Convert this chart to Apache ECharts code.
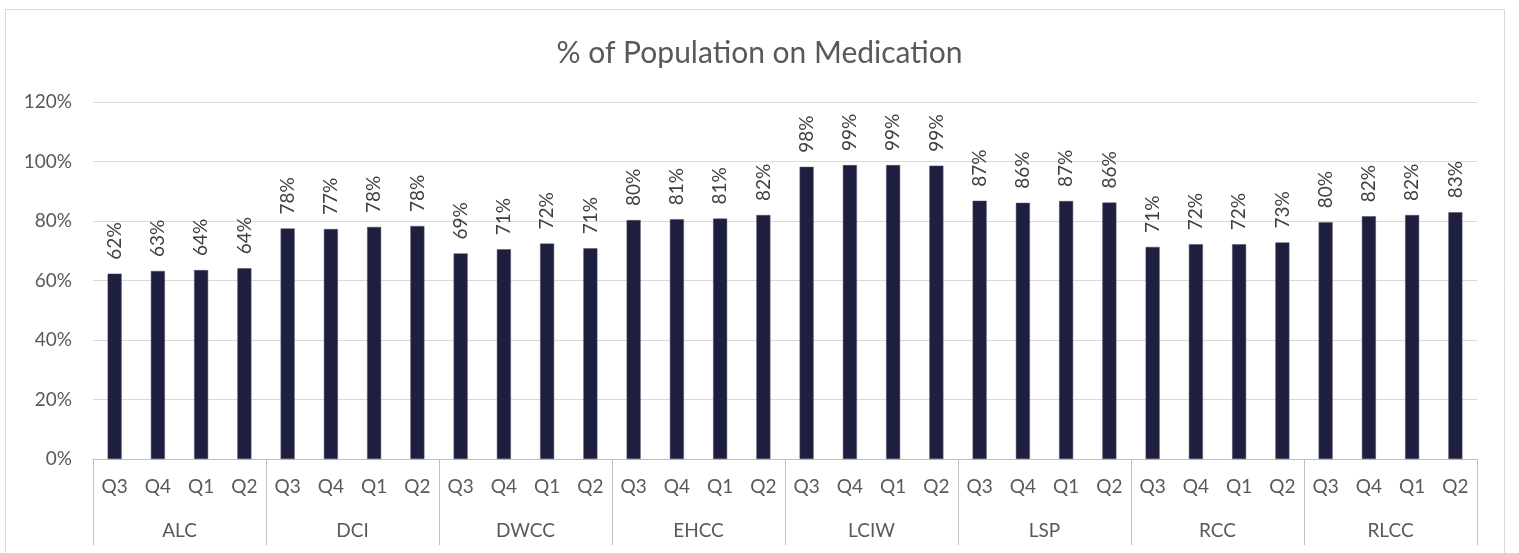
<!DOCTYPE html>
<html>
<head>
<meta charset="utf-8">
<title>% of Population on Medication</title>
<script src="https://cdn.jsdelivr.net/npm/echarts@6/dist/echarts.min.js"></script>
<style>
  html, body { margin: 0; padding: 0; background: #fff; }
  #chart { width: 1519px; height: 553px; }
</style>
</head>
<body>
<div id="chart"></div>
<script>
// facility groups, 4 quarters each
const facilities = ['ALC', 'DCI', 'DWCC', 'EHCC', 'LCIW', 'LSP', 'RCC', 'RLCC']
const quarters = ['Q3', 'Q4', 'Q1', 'Q2']

// % on medication per facility (Q3, Q4, Q1, Q2)
const alc = [62.3, 63.2, 63.5, 64.1]
const dci = [77.5, 77.3, 78.0, 78.3]
const dwcc = [69.1, 70.5, 72.4, 70.8]
const ehcc = [80.3, 80.6, 80.8, 82.0]
const lciw = [98.2, 98.8, 98.8, 98.6]
const lsp = [86.8, 86.1, 86.7, 86.2]
const rcc = [71.3, 72.2, 72.2, 72.8]
const rlcc = [79.6, 81.6, 82.0, 82.9]

const yTicks = [0, 20, 40, 60, 80, 100, 120]

const allValues = [alc, dci, dwcc, ehcc, lciw, lsp, rcc, rlcc].flat()
const quarterLabels = facilities.flatMap(() => quarters)

const font = 'Lato, "Open Sans", sans-serif'
const gray = '#595959'
const lineGray = '#bfbfbf'

const chart = echarts.init(document.getElementById('chart'))

chart.setOption({
  animation: false,
  textStyle: { fontFamily: font },
  title: {
    text: '% of Population on Medication',
    left: 'center',
    top: 33,
    textStyle: { fontFamily: font, fontSize: 30, fontWeight: 'normal', color: gray }
  },
  graphic: [{
    type: 'rect',
    shape: { x: 5.5, y: 9.5, width: 1499, height: 560 },
    style: { fill: 'none', stroke: '#d9d9d9', lineWidth: 1 },
    silent: true
  }],
  grid: { left: 93, right: 42, top: 102, bottom: 94 },
  xAxis: [
    {
      type: 'category',
      data: quarterLabels,
      axisLine: { lineStyle: { color: lineGray } },
      axisTick: { show: false },
      axisLabel: { interval: 0, color: gray, fontSize: 19, margin: 18 }
    },
    {
      type: 'category',
      data: facilities,
      position: 'bottom',
      offset: 0,
      axisLine: { show: false },
      axisTick: { show: true, length: 86, lineStyle: { color: lineGray } },
      axisLabel: { interval: 0, color: gray, fontSize: 19, margin: 62 }
    }
  ],
  yAxis: {
    type: 'value',
    min: yTicks[0],
    max: yTicks[yTicks.length - 1],
    interval: 20,
    axisLine: { show: false },
    axisTick: { show: false },
    axisLabel: { formatter: '{value}%', color: gray, fontSize: 19, margin: 21 },
    splitLine: { lineStyle: { color: '#d9d9d9' } }
  },
  series: [{
    type: 'bar',
    xAxisIndex: 0,
    data: allValues,
    barWidth: 14,
    itemStyle: { color: '#1e1f3f', borderColor: '#4b4c68', borderWidth: 0.5 },
    label: {
      show: true,
      position: 'top',
      rotate: 90,
      align: 'left',
      verticalAlign: 'middle',
      distance: 14,
      color: '#404040',
      fontSize: 19,
      fontFamily: font,
      formatter: p => Math.round(p.value) + '%'
    }
  }]
})
</script>
</body>
</html>
